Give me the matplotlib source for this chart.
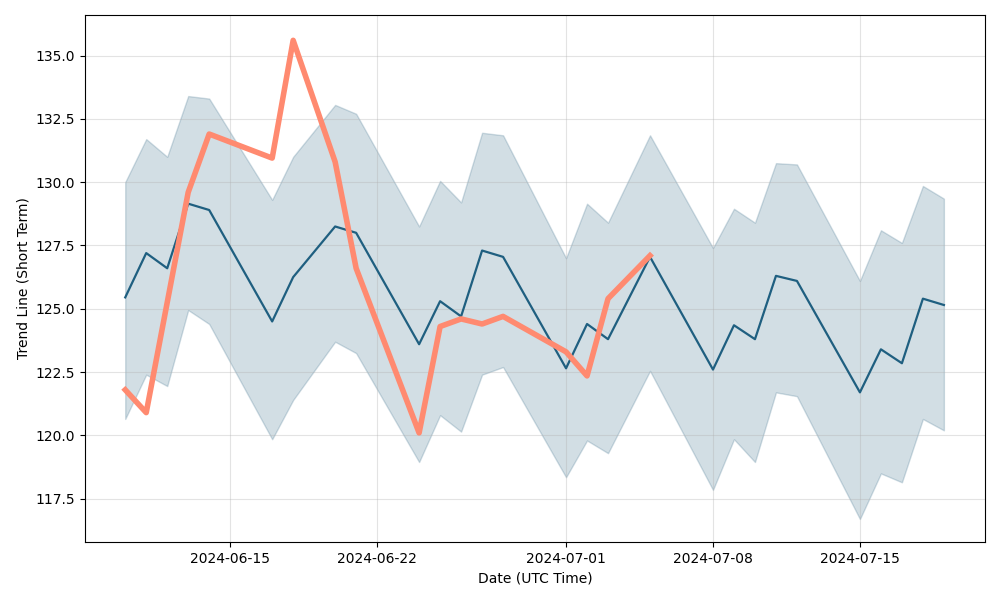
import matplotlib
matplotlib.use("Agg")
import matplotlib.pyplot as plt
import matplotlib.dates as mdates
import pandas as pd

dates = ["2024-06-10","2024-06-11","2024-06-12","2024-06-13","2024-06-14","2024-06-17","2024-06-18",
         "2024-06-20","2024-06-21","2024-06-24","2024-06-25","2024-06-26","2024-06-27","2024-06-28",
         "2024-07-01","2024-07-02","2024-07-03","2024-07-05","2024-07-08","2024-07-09","2024-07-10",
         "2024-07-11","2024-07-12","2024-07-15","2024-07-16","2024-07-17","2024-07-18","2024-07-19"]
trend = [125.45,127.2,126.6,129.15,128.9,124.5,126.25,128.25,128.0,123.6,125.3,124.7,127.3,127.05,
         122.65,124.4,123.8,127.05,122.6,124.35,123.8,126.3,126.1,121.7,123.4,122.85,125.4,125.15]
upper = [130.0,131.7,131.0,133.4,133.3,129.3,131.0,133.05,132.7,128.25,130.05,129.2,131.95,131.85,
         127.0,129.15,128.4,131.85,127.4,128.95,128.4,130.75,130.7,126.1,128.1,127.6,129.85,129.35]
lower = [120.65,122.4,121.95,124.95,124.4,119.85,121.4,123.7,123.25,118.95,120.8,120.15,122.4,122.7,
         118.35,119.8,119.3,122.55,117.85,119.85,118.95,121.7,121.55,116.7,118.5,118.15,120.65,120.2]
price_dates = ["2024-06-10","2024-06-11","2024-06-13","2024-06-14","2024-06-17","2024-06-18","2024-06-20",
               "2024-06-21","2024-06-24","2024-06-25","2024-06-26","2024-06-27","2024-06-28","2024-07-01",
               "2024-07-02","2024-07-03","2024-07-05"]
price = [121.8,120.9,129.6,131.9,130.95,135.6,130.8,126.6,120.1,124.3,124.6,124.4,124.7,123.3,122.35,125.4,127.1]
tick_dates = ["2024-06-15","2024-06-22","2024-07-01","2024-07-08","2024-07-15"]

d = pd.to_datetime(dates)
pd_ = pd.to_datetime(price_dates)

fig, ax = plt.subplots(figsize=(10, 6), dpi=100)
ax.fill_between(d, lower, upper, color="#1f5a7a", alpha=0.2)
ax.plot(d, trend, color="#1f5f80", lw=1.6)
ax.plot(pd_, price, color="#ff8a70", lw=4)
ax.set_xticks(pd.to_datetime(tick_dates))
ax.xaxis.set_major_formatter(mdates.DateFormatter("%Y-%m-%d"))
ax.set_xlim(pd.Timestamp("2024-06-08 02:00"), pd.Timestamp("2024-07-20 23:00"))
ax.set_ylim(115.8, 136.6)
ax.grid(True, alpha=0.35)
ax.set_xlabel("Date (UTC Time)")
ax.set_ylabel("Trend Line (Short Term)")
fig.subplots_adjust(left=0.085, right=0.985, top=0.975, bottom=0.097)
fig.savefig("out.png")
